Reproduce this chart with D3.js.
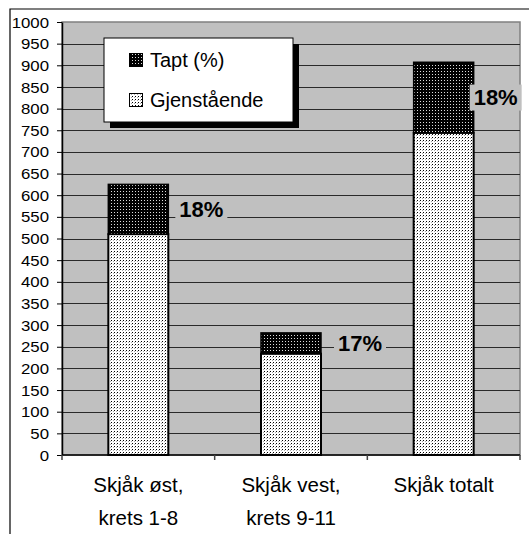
<!DOCTYPE html>
<html>
<head>
<meta charset="utf-8">
<script src="https://cdn.jsdelivr.net/npm/d3@7"></script>
<style>
  body { margin: 0; background: #fff; }
  svg { display: block; font-family: Arial, "Liberation Sans", sans-serif; }
</style>
</head>
<body>
<svg id="chart" width="529" height="534"></svg>
<script>
// data
const categories = [["Skjåk øst,", "krets 1-8"], ["Skjåk vest,", "krets 9-11"], ["Skjåk totalt"]]
const remaining = [510, 234, 744]
const lost = [115, 48, 163]
const pctLabels = ["18%", "17%", "18%"]
const labelDx = [33, 39, 22]   // label centre, px right of bar edge
const yTicks = d3.range(0, 1001, 50)

const svg = d3.select("#chart")
const margin = { left: 62, top: 22, right: 9, bottom: 79 }
const width = 529 - margin.left - margin.right
const height = 534 - margin.top - margin.bottom

// patterns
const defs = svg.append("defs")
const pLight = defs.append("pattern").attr("id", "light")
  .attr("width", 3).attr("height", 3).attr("patternUnits", "userSpaceOnUse")
pLight.append("rect").attr("width", 3).attr("height", 3).attr("fill", "#fff")
pLight.append("rect").attr("x", 1).attr("y", 1).attr("width", 1).attr("height", 1).attr("fill", "#000")
pLight.append("rect").attr("x", 0).attr("y", 2).attr("width", 1).attr("height", 1).attr("fill", "#aaa")

const pDark = defs.append("pattern").attr("id", "dark")
  .attr("width", 3).attr("height", 3).attr("patternUnits", "userSpaceOnUse")
pDark.append("rect").attr("width", 3).attr("height", 3).attr("fill", "#000")
pDark.append("rect").attr("x", 1).attr("y", 1).attr("width", 1).attr("height", 1).attr("fill", "#ddd")

// outer frame (cut off at right and bottom)
svg.append("path").attr("d", "M10,540 V9 H540")
  .attr("fill", "none").attr("stroke", "#000").attr("stroke-width", 1.2)

const g = svg.append("g").attr("transform", `translate(${margin.left},${margin.top})`)

const x = d3.scaleBand().domain(d3.range(categories.length))
  .range([0, width]).paddingInner(0.607).paddingOuter(0.3035)
const y = d3.scaleLinear().domain([0, 1000]).range([height, 0])

// plot area
g.append("rect").attr("width", width).attr("height", height)
  .attr("fill", "#c0c0c0").attr("stroke", "#808080").attr("stroke-width", 1.5)

// gridlines
g.append("g").selectAll("line").data(yTicks.filter(d => d > 0 && d < 1000)).join("line")
  .attr("x1", 0).attr("x2", width)
  .attr("y1", d => Math.round(y(d)) + 0.5).attr("y2", d => Math.round(y(d)) + 0.5)
  .attr("stroke", "#2a2a2a").attr("stroke-width", 1)

// bars
const bars = g.append("g").selectAll("g").data(categories).join("g")
bars.append("rect")
  .attr("x", (d, i) => x(i)).attr("width", x.bandwidth())
  .attr("y", (d, i) => y(remaining[i])).attr("height", (d, i) => y(0) - y(remaining[i]))
  .attr("fill", "url(#light)").attr("stroke", "#000").attr("stroke-width", 2)
bars.append("rect")
  .attr("x", (d, i) => x(i)).attr("width", x.bandwidth())
  .attr("y", (d, i) => y(remaining[i] + lost[i])).attr("height", (d, i) => y(remaining[i]) - y(remaining[i] + lost[i]))
  .attr("fill", "url(#dark)").attr("stroke", "#000").attr("stroke-width", 1.5)

// percent labels
const lab = g.append("g").selectAll("g").data(pctLabels).join("g")
  .attr("transform", (d, i) => `translate(${x(i) + x.bandwidth() + labelDx[i]},${y(remaining[i] + lost[i] / 2)})`)
lab.append("rect").attr("x", -26).attr("y", -13).attr("width", 52).attr("height", 26).attr("fill", "#c0c0c0")
lab.append("text").text(d => d)
  .attr("text-anchor", "middle").attr("dy", "0.36em")
  .attr("font-size", 22).attr("font-weight", "bold").attr("fill", "#000")

// y axis
const yAxis = g.append("g").call(d3.axisLeft(y).tickValues(yTicks).tickFormat(d3.format("d"))
  .tickSize(5).tickPadding(0).tickSizeOuter(0))
yAxis.select(".domain").attr("stroke", "#000").attr("stroke-width", 1.5)
yAxis.selectAll(".tick line").attr("stroke", "#000")
yAxis.selectAll(".tick text")
  .attr("x", null).attr("dy", "0.36em")
  .attr("font-size", 14).attr("fill", "#000")
  .attr("transform", "translate(-13,0) scale(1.2,1)")

// x axis
const xAxis = g.append("g").attr("transform", `translate(0,${height})`)
xAxis.append("line").attr("x1", 0).attr("x2", width).attr("stroke", "#000").attr("stroke-width", 1.5)
xAxis.selectAll(".xt").data(d3.range(categories.length + 1)).join("line")
  .attr("x1", d => d * width / categories.length).attr("x2", d => d * width / categories.length)
  .attr("y1", 0).attr("y2", 5).attr("stroke", "#444").attr("stroke-width", 1.5)
xAxis.selectAll(".xl").data(categories).join("text")
  .attr("text-anchor", "middle").attr("font-size", 20.5).attr("fill", "#000")
  .attr("transform", (d, i) => `translate(${x(i) + x.bandwidth() / 2},0)`)
  .selectAll("tspan").data(d => d).join("tspan")
  .attr("x", 0).attr("y", (d, j) => 37 + j * 33)
  .text(d => d)

// legend
const leg = svg.append("g").attr("transform", "translate(104,38)")
leg.append("rect").attr("x", 6).attr("y", 6).attr("width", 189).attr("height", 84).attr("fill", "#000")
leg.append("rect").attr("width", 189).attr("height", 84).attr("fill", "#fff").attr("stroke", "#000").attr("stroke-width", 1)
const legItems = [["Tapt (%)", "url(#dark)"], ["Gjenstående", "url(#light)"]]
legItems.forEach((it, i) => {
  leg.append("rect").attr("x", 25.5).attr("y", 15.5 + i * 40).attr("width", 13).attr("height", 13)
    .attr("fill", it[1]).attr("stroke", "#000").attr("stroke-width", 1)
  leg.append("text").attr("x", 46).attr("y", 29 + i * 40).attr("font-size", 20).attr("fill", "#000").text(it[0])
})
</script>
</body>
</html>
